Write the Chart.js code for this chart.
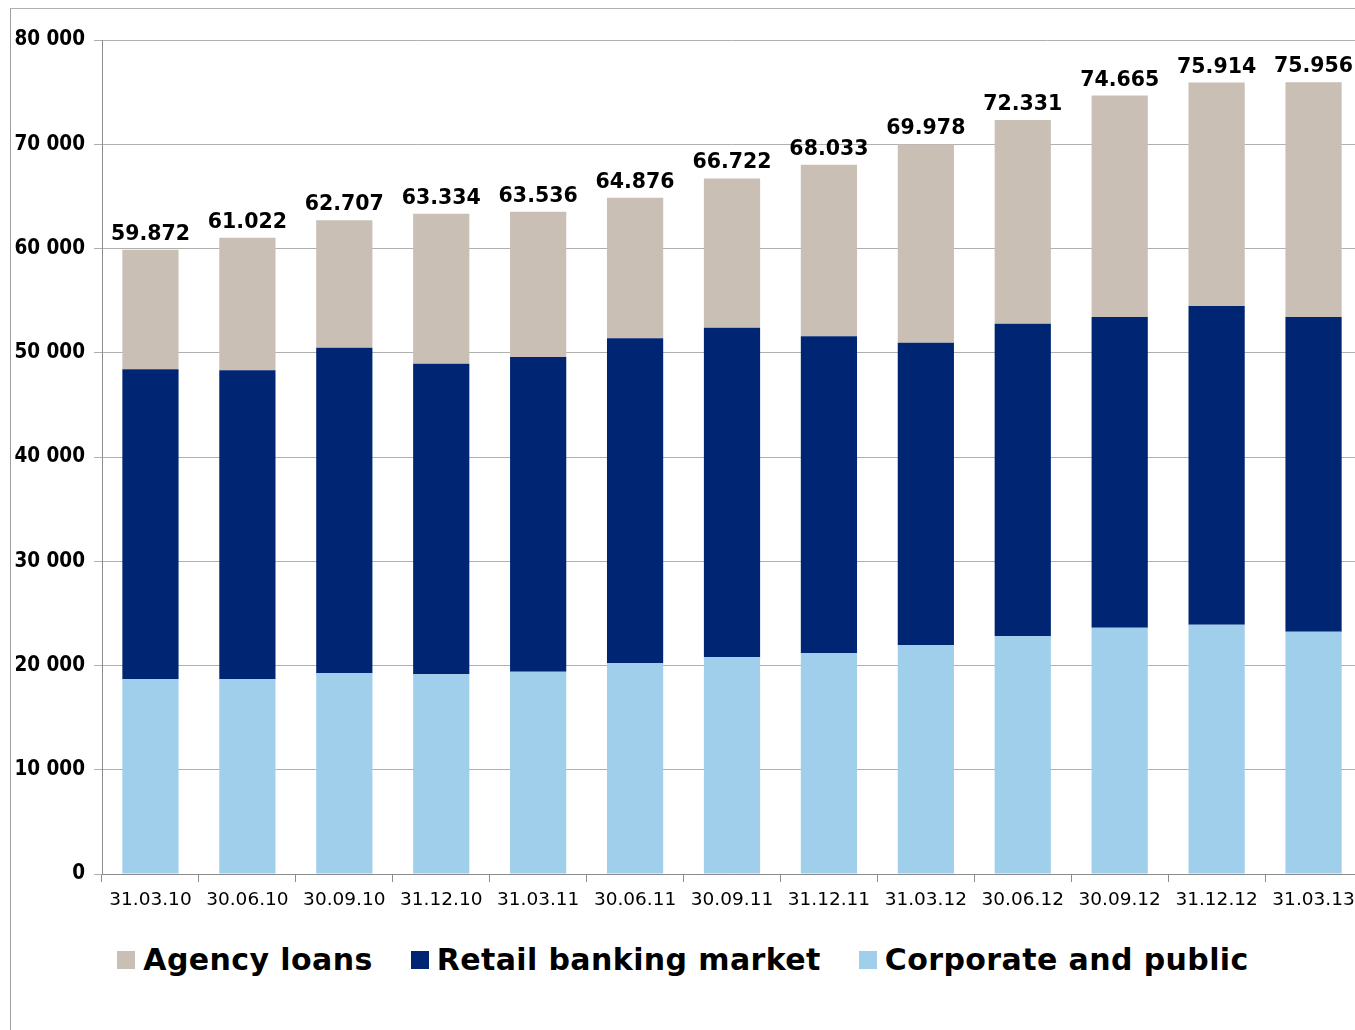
<!DOCTYPE html>
<html>
<head>
<meta charset="utf-8">
<script src="https://cdn.jsdelivr.net/npm/chart.js@4.4.1/dist/chart.umd.min.js"></script>
<style>
    html, body { margin: 0; padding: 0; background: #fff; }
    body { width: 1355px; height: 1030px; position: relative; overflow: hidden; }
    .frame {
        position: absolute; left: 10px; top: 8px; right: -10px; bottom: -10px;
        border-top: 1px solid #b0b0b0; border-left: 1px solid #a0a0a0;
    }
    .chart-box { position: absolute; left: 11px; top: 9px; width: 1351px; height: 905px; }
    .legend {
        position: absolute; left: 11px; width: 1344px; top: 945px;
        display: flex; justify-content: center;
        font-family: "DejaVu Sans", Verdana, sans-serif; font-weight: bold; font-size: 30px; line-height: 30px;
        letter-spacing: 0.4px;
    }
    .legend-item { display: flex; align-items: center; margin: 0 19px; }
    .legend-box { width: 18px; height: 18px; margin-right: 8px; }
</style>
</head>
<body>
<div class="frame"></div>
<div class="chart-box"><canvas id="loanChart"></canvas></div>
<div class="legend" id="legend"></div>

<script>
// 季度末日期
const quarters = ['31.03.10', '30.06.10', '30.09.10', '31.12.10', '31.03.11', '30.06.11', '30.09.11',
    '31.12.11', '31.03.12', '30.06.12', '30.09.12', '31.12.12', '31.03.13'];

// 各類貸款餘額
const corporatePublic = [18680, 18680, 19250, 19160, 19400, 20210, 20820, 21200, 21970, 22800, 23630, 23910, 23240];
const retailBanking = [29730, 29640, 31230, 29790, 30190, 31180, 31580, 30380, 28990, 29990, 29800, 30570, 30190];
const agencyLoans = [11462, 12702, 12227, 14384, 13946, 13486, 14322, 16453, 19018, 19541, 21235, 21434, 22526];

const yTicks = [0, 10000, 20000, 30000, 40000, 50000, 60000, 70000, 80000];

const colors = {
    agency: '#c9bfb5',
    retail: '#002673',
    corporate: '#a0cfeb'
};

// 堆疊總額標籤
const totalLabels = {
    id: 'totalLabels',
    afterDatasetsDraw(chart) {
        const ctx = chart.ctx;
        const topMeta = chart.getDatasetMeta(chart.data.datasets.length - 1);
        ctx.save();
        ctx.font = 'bold 20.5px "DejaVu Sans", Verdana, sans-serif';
        ctx.fillStyle = '#000';
        ctx.textAlign = 'center';
        ctx.textBaseline = 'alphabetic';
        topMeta.data.forEach((bar, i) => {
            const total = chart.data.datasets.reduce((s, ds) => s + ds.data[i], 0);
            ctx.fillText((total / 1000).toFixed(3), bar.x, bar.y - 10);
        });
        ctx.restore();
    }
};

function initChart() {
    const ctx = document.getElementById('loanChart').getContext('2d');
    window.loanChart = new Chart(ctx, {
        type: 'bar',
        data: {
            labels: quarters,
            datasets: [
                { label: 'Corporate and public', data: corporatePublic, backgroundColor: colors.corporate },
                { label: 'Retail banking market', data: retailBanking, backgroundColor: colors.retail },
                { label: 'Agency loans', data: agencyLoans, backgroundColor: colors.agency }
            ]
        },
        options: {
            responsive: true,
            maintainAspectRatio: false,
            animation: false,
            layout: { padding: { top: 31, left: 0, right: 0, bottom: 0 } },
            datasets: { bar: { categoryPercentage: 1, barPercentage: 0.58 } },
            plugins: {
                legend: { display: false },
                tooltip: { enabled: false }
            },
            scales: {
                x: {
                    stacked: true,
                    afterFit: scale => { scale.height = 40; },
                    grid: {
                        offset: true,
                        drawOnChartArea: false,
                        drawTicks: true,
                        tickLength: 8,
                        color: '#8c8c8c'
                    },
                    border: { color: '#8c8c8c', width: 1 },
                    ticks: {
                        maxRotation: 0,
                        autoSkip: false,
                        padding: 7,
                        color: '#000',
                        font: { family: '"DejaVu Sans", Verdana, sans-serif', size: 18.5 }
                    }
                },
                y: {
                    stacked: true,
                    min: 0,
                    max: 80000,
                    afterFit: scale => { scale.width = 91; },
                    afterBuildTicks: scale => { scale.ticks = yTicks.map(v => ({ value: v })); },
                    grid: {
                        color: '#b0b0b0',
                        lineWidth: 1,
                        drawTicks: true,
                        tickLength: 8
                    },
                    border: { color: '#8c8c8c', width: 1 },
                    ticks: {
                        padding: 9,
                        color: '#000',
                        font: { family: '"DejaVu Sans Condensed", "DejaVu Sans", Verdana, sans-serif', size: 20.5, weight: 'bold' },
                        callback: v => v === 0 ? '0' : (v / 1000) + ' 000'
                    }
                }
            }
        },
        plugins: [totalLabels]
    });
}

// 圖例（順序與圖中相反）
function buildLegend() {
    const items = [
        ['Agency loans', colors.agency],
        ['Retail banking market', colors.retail],
        ['Corporate and public', colors.corporate]
    ];
    const legend = document.getElementById('legend');
    items.forEach(([text, color]) => {
        const item = document.createElement('div');
        item.className = 'legend-item';
        const box = document.createElement('span');
        box.className = 'legend-box';
        box.style.background = color;
        const label = document.createElement('span');
        label.textContent = text;
        item.appendChild(box);
        item.appendChild(label);
        legend.appendChild(item);
    });
}

document.addEventListener('DOMContentLoaded', function() {
    buildLegend();
    initChart();
});
</script>
</body>
</html>
